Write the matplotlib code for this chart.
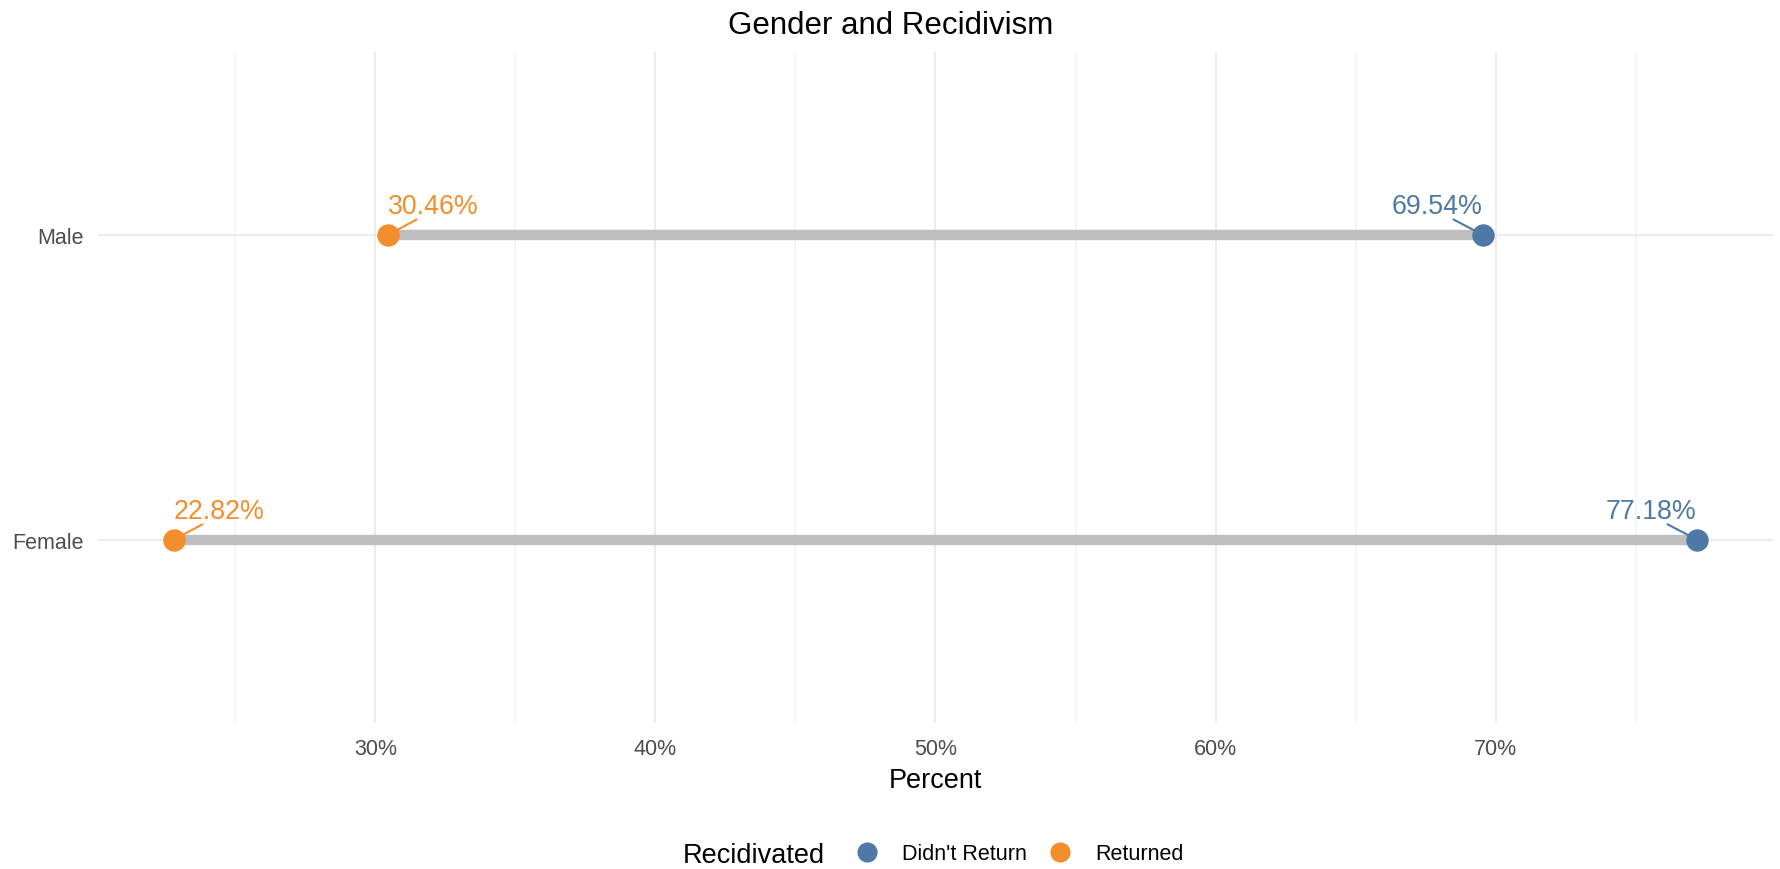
import matplotlib.pyplot as plt
from matplotlib.lines import Line2D
from matplotlib.ticker import MultipleLocator, FuncFormatter

plt.rcParams['font.family'] = ['Liberation Sans', 'DejaVu Sans']

# data
genders = ["Female", "Male"]
didnt_return = [77.18, 69.54]
returned = [22.82, 30.46]
series_names = ["Didn't Return", "Returned"]

blue = "#4E79A7"
orange = "#F28E2B"

fig = plt.figure(figsize=(17.81, 8.70), dpi=100)
ax = fig.add_axes([98 / 1781, 1 - 723.5 / 870, (1773 - 98) / 1781, (723.5 - 53) / 870])

ypos = list(range(1, len(genders) + 1))

# dumbbell segments
for y, a, b in zip(ypos, returned, didnt_return):
    ax.plot([a, b], [y, y], color="#BEBEBE", lw=7.5, solid_capstyle="butt", zorder=2)

ax.scatter(didnt_return, ypos, s=260, color=blue, zorder=3, linewidths=0)
ax.scatter(returned, ypos, s=260, color=orange, zorder=3, linewidths=0)


# repel-like labels
def label(x, y, dx, color):
    rx = 0.67 if dx < 0 else 0.33
    ax.annotate(f"{x:.2f}%", xy=(x, y), xytext=(dx, 29), textcoords="offset pixels",
                ha="center", va="center", fontsize=19.3, color=color, zorder=4,
                arrowprops=dict(arrowstyle="-", color=color, lw=1.5, relpos=(rx, 0),
                                patchA=None, shrinkA=1, shrinkB=0))


for y, v in zip(ypos, didnt_return):
    label(v, y, -46, blue)
for y, v in zip(ypos, returned):
    label(v, y, 45, orange)

lo = min(returned)
hi = max(didnt_return)
pad = (hi - lo) * 0.05
ax.set_xlim(lo - pad, hi + pad)
ax.set_ylim(0.4, len(genders) + 0.6)

ax.xaxis.set_major_locator(MultipleLocator(10))
ax.xaxis.set_minor_locator(MultipleLocator(5))
ax.xaxis.set_major_formatter(FuncFormatter(lambda v, p: f"{v:.0f}%"))
ax.set_yticks(ypos)
ax.set_yticklabels(genders)

ax.grid(which="major", color="#EBEBEB", lw=1.4, zorder=0)
ax.grid(which="minor", axis="x", color="#F3F3F3", lw=1.2, zorder=0)
ax.set_axisbelow(True)
for s in ax.spines.values():
    s.set_visible(False)
ax.tick_params(which="both", length=0)
ax.tick_params(axis="x", labelsize=15.5, labelcolor="#4D4D4D", pad=11)
ax.tick_params(axis="y", labelsize=15.5, labelcolor="#4D4D4D", pad=10)

ax.set_xlabel("Percent", fontsize=19.5, labelpad=6)
fig.text(0.5, 1 - 26 / 870, "Gender and Recidivism", ha="center", va="center", fontsize=22.5)

# legend
fig.text(683 / 1781, 1 - 856 / 870, "Recidivated", ha="left", va="center", fontsize=19.5)
handles = [Line2D([], [], marker="o", ls="", color=c, markersize=13.5) for c in (blue, orange)]
fig.legend(handles, series_names, ncol=2, frameon=False, fontsize=15.5,
           loc="center left", bbox_to_anchor=(854 / 1781, 1 - 855 / 870),
           handlelength=1.2, handletextpad=1.05, columnspacing=0.9,
           borderpad=0, borderaxespad=0)

fig.savefig("out.png", dpi=100)
